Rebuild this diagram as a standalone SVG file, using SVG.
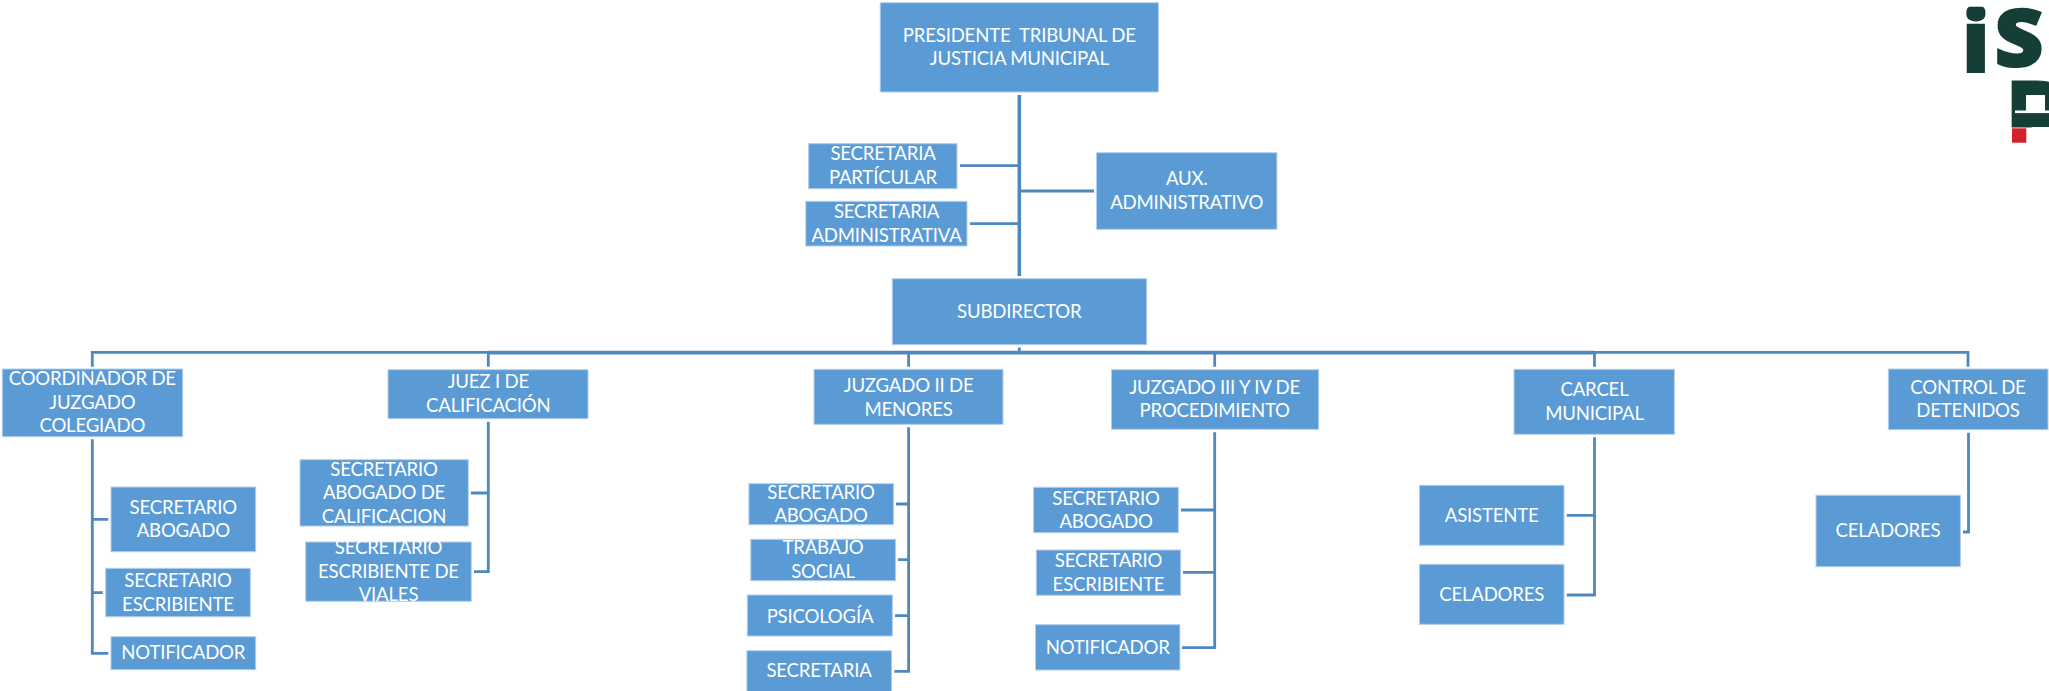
<svg xmlns="http://www.w3.org/2000/svg" width="2049" height="691" viewBox="0 0 2049 691">
<style>
.b{fill:#5b9bd5;stroke:#b4cfeb;stroke-width:1}
.t{font-family:"Lato","Noto Sans","Liberation Sans",sans-serif;font-size:18.6px;letter-spacing:-0.2px;fill:#fff;text-anchor:middle;white-space:pre}
.c{fill:none;stroke:#4f88bf;stroke-width:2.8}
.th{fill:none;stroke:#4f88bf;stroke-width:3.6}
.l{font-family:"Open Sans","Noto Sans",sans-serif;font-weight:800;fill:#153f36;stroke:#153f36}
</style>
<rect width="2049" height="691" fill="#fff"/>
<g id="connectors">
<path class="th" d="M1019.3 95V276"/>
<path class="c" d="M960 165.7H1019M970 223.7H1019M1021 191H1094"/>
<path class="c" d="M1019.3 347.5V352"/>
<path class="c" d="M92.3 366.7V352.3H1968V366.7"/>
<path class="th" d="M488 352.6H1594.5"/>
<path class="c" d="M488.3 352V366.7M908.6 352V366.7M1214.7 352V366.7M1594.5 352V366.7"/>
<path class="c" d="M92.3 439.3V653.3H108.3M92.3 519.3H108.3M92.3 592.7H102.7"/>
<path class="c" d="M488.3 421.7V571.7H474M488.3 493H471"/>
<path class="c" d="M908.6 427.3V671.3H894.4M908.6 504H896M908.6 559.7H898M908.6 615.7H895"/>
<path class="c" d="M1214.7 432.3V647.7H1182M1214.7 510H1181M1214.7 572.3H1183"/>
<path class="c" d="M1594.5 437.3V595H1566.8M1594.5 515.3H1566.8"/>
<path class="c" d="M1968.5 432.7V532H1963"/>
</g>
<g id="presidente"><rect class="b" x="880.2" y="2.7" width="278.2" height="89.3"/><text class="t" x="1019.3" y="42">PRESIDENTE  TRIBUNAL DE</text><text class="t" x="1019.3" y="65">JUSTICIA MUNICIPAL</text></g>
<g id="sec-particular"><rect class="b" x="808.6" y="143.7" width="148.4" height="45"/><text class="t" x="883" y="160">SECRETARIA</text><text class="t" x="883" y="184">PARTÍCULAR</text></g>
<g id="sec-administrativa"><rect class="b" x="805.8" y="201.3" width="161.2" height="44.7"/><text class="t" x="886.5" y="218">SECRETARIA</text><text class="t" x="886.5" y="242">ADMINISTRATIVA</text></g>
<g id="aux"><rect class="b" x="1096.5" y="152.7" width="180.4" height="76.6"/><text class="t" x="1186.7" y="185">AUX.</text><text class="t" x="1186.7" y="209">ADMINISTRATIVO</text></g>
<g id="subdirector"><rect class="b" x="892.3" y="278.7" width="254.4" height="66"/><text class="t" x="1019.3" y="318">SUBDIRECTOR</text></g>
<g id="coordinador"><rect class="b" x="2.3" y="369" width="180.4" height="67.7"/><text class="t" x="92.3" y="385">COORDINADOR DE</text><text class="t" x="92.3" y="409">JUZGADO</text><text class="t" x="92.3" y="432">COLEGIADO</text></g>
<g id="c-abogado"><rect class="b" x="111" y="487" width="144.7" height="64.7"/><text class="t" x="183.3" y="514">SECRETARIO</text><text class="t" x="183.3" y="537.3">ABOGADO</text></g>
<g id="c-escribiente"><rect class="b" x="105.7" y="568.3" width="144.6" height="48.4"/><text class="t" x="178" y="587.3">SECRETARIO</text><text class="t" x="178" y="611.3">ESCRIBIENTE</text></g>
<g id="c-notificador"><rect class="b" x="111" y="636.7" width="144.7" height="33"/><text class="t" x="183.3" y="659.3">NOTIFICADOR</text></g>
<g id="juez1"><rect class="b" x="388" y="369.7" width="200" height="49"/><text class="t" x="488.3" y="388.3">JUEZ I DE</text><text class="t" x="488.3" y="412">CALIFICACIÓN</text></g>
<g id="j1-abogado"><rect class="b" x="300" y="459.7" width="168.3" height="66.3"/><text class="t" x="384" y="476">SECRETARIO</text><text class="t" x="384" y="499.3">ABOGADO DE</text><text class="t" x="384" y="523.3">CALIFICACION</text></g>
<g id="j1-escribiente"><rect class="b" x="305.7" y="542" width="165.6" height="59.3"/><text class="t" x="388.5" y="554">SECRETARIO</text><text class="t" x="388.5" y="578">ESCRIBIENTE DE</text><text class="t" x="388.5" y="601.3">VIALES</text></g>
<g id="juzgado2"><rect class="b" x="814" y="369.3" width="189" height="55"/><text class="t" x="908.6" y="391.7">JUZGADO II DE</text><text class="t" x="908.6" y="415.7">MENORES</text></g>
<g id="j2-abogado"><rect class="b" x="748.9" y="483.7" width="144.7" height="41"/><text class="t" x="821" y="499.3">SECRETARIO</text><text class="t" x="821" y="522">ABOGADO</text></g>
<g id="j2-trabajo"><rect class="b" x="750.8" y="539.3" width="144.8" height="41.4"/><text class="t" x="823" y="554">TRABAJO</text><text class="t" x="823" y="578">SOCIAL</text></g>
<g id="j2-psicologia"><rect class="b" x="747.3" y="595" width="145.1" height="41"/><text class="t" x="820" y="622.7">PSICOLOGÍA</text></g>
<g id="j2-secretaria"><rect class="b" x="746.9" y="650.7" width="144.7" height="42"/><text class="t" x="819" y="677.3">SECRETARIA</text></g>
<g id="juzgado3"><rect class="b" x="1111.5" y="369.7" width="207.2" height="59.6"/><text class="t" x="1214.7" y="394">JUZGADO III Y IV DE</text><text class="t" x="1214.7" y="417.3">PROCEDIMIENTO</text></g>
<g id="j3-abogado"><rect class="b" x="1033.6" y="487.3" width="144.7" height="45.4"/><text class="t" x="1106" y="505">SECRETARIO</text><text class="t" x="1106" y="528.3">ABOGADO</text></g>
<g id="j3-escribiente"><rect class="b" x="1036.3" y="550" width="144.4" height="45.3"/><text class="t" x="1108.5" y="567.3">SECRETARIO</text><text class="t" x="1108.5" y="591.3">ESCRIBIENTE</text></g>
<g id="j3-notificador"><rect class="b" x="1035.5" y="624.7" width="144.4" height="45.3"/><text class="t" x="1107.7" y="654.3">NOTIFICADOR</text></g>
<g id="carcel"><rect class="b" x="1514" y="369.3" width="160.4" height="65"/><text class="t" x="1594.5" y="396">CARCEL</text><text class="t" x="1594.5" y="420">MUNICIPAL</text></g>
<g id="asistente"><rect class="b" x="1419.5" y="485.3" width="144.5" height="60"/><text class="t" x="1491.7" y="522">ASISTENTE</text></g>
<g id="celadores1"><rect class="b" x="1419.5" y="564.3" width="144.5" height="60"/><text class="t" x="1491.7" y="601">CELADORES</text></g>
<g id="control"><rect class="b" x="1888.4" y="369" width="159.6" height="60.7"/><text class="t" x="1968" y="394">CONTROL DE</text><text class="t" x="1968" y="417">DETENIDOS</text></g>
<g id="celadores2"><rect class="b" x="1816" y="495.3" width="144.4" height="71.4"/><text class="t" x="1888" y="537.3">CELADORES</text></g>
<g id="logo">
<text class="l" x="1962" y="71.8" font-size="85" stroke-width="2">i</text>
<text class="l" transform="translate(1994.5 65.8) scale(1.06 1)" font-size="80" stroke-width="2">S</text>
<text class="l" transform="translate(2005 127.3) scale(1.5 1)" font-size="64">P</text>
<rect x="1966" y="0" width="18" height="6.7" fill="#fff"/>
<rect x="2012" y="113" width="37" height="14" fill="#153f36"/>
<rect x="2020" y="84" width="29" height="11" fill="#153f36"/>
<rect x="2026" y="95" width="19" height="17" fill="#fff"/>
<rect x="2045" y="95" width="4" height="16" fill="#153f36"/>
<rect x="2015" y="110.5" width="34" height="2.6" fill="#fff"/>
<rect x="2012" y="128.3" width="14.3" height="14.4" fill="#d2202f"/>
</g>
</svg>
